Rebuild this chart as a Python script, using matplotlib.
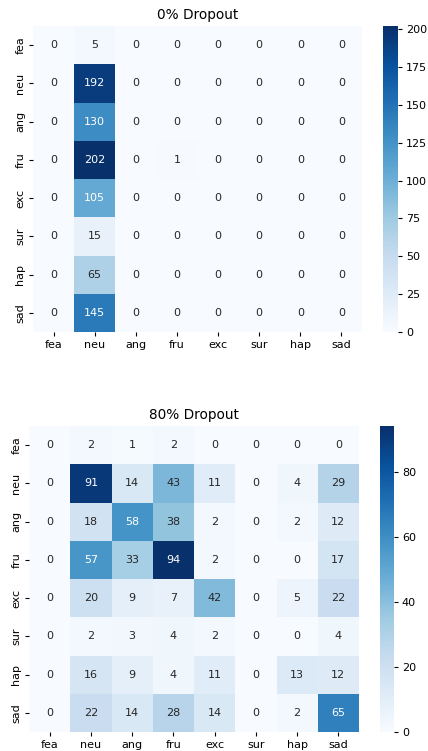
import matplotlib
matplotlib.use("Agg")
import matplotlib.pyplot as plt
import numpy as np
import seaborn as sns

labels = ["fea", "neu", "ang", "fru", "exc", "sur", "hap", "sad"]

cm_0 = np.array([
    [0, 5, 0, 0, 0, 0, 0, 0],
    [0, 192, 0, 0, 0, 0, 0, 0],
    [0, 130, 0, 0, 0, 0, 0, 0],
    [0, 202, 0, 1, 0, 0, 0, 0],
    [0, 105, 0, 0, 0, 0, 0, 0],
    [0, 15, 0, 0, 0, 0, 0, 0],
    [0, 65, 0, 0, 0, 0, 0, 0],
    [0, 145, 0, 0, 0, 0, 0, 0],
])

cm_80 = np.array([
    [0, 2, 1, 2, 0, 0, 0, 0],
    [0, 91, 14, 43, 11, 0, 4, 29],
    [0, 18, 58, 38, 2, 0, 2, 12],
    [0, 57, 33, 94, 2, 0, 0, 17],
    [0, 20, 9, 7, 42, 0, 5, 22],
    [0, 2, 3, 4, 2, 0, 0, 4],
    [0, 16, 9, 4, 11, 0, 13, 12],
    [0, 22, 14, 28, 14, 0, 2, 65],
])

W, H = 428, 751
fig = plt.figure(figsize=(W / 100, H / 100), dpi=100)

def box(x0, y0, x1, y1):
    return [x0 / W, 1 - y1 / H, (x1 - x0) / W, (y1 - y0) / H]

ax1 = fig.add_axes(box(33, 26, 362, 332))
cax1 = fig.add_axes(box(383, 26, 398, 332))
sns.heatmap(cm_0, annot=True, fmt="d", cmap="Blues", ax=ax1, cbar_ax=cax1,
            xticklabels=labels, yticklabels=labels, annot_kws={"size": 8})
ax1.set_title("0% Dropout", fontsize=9.8, pad=5)

ax2 = fig.add_axes(box(29, 426, 359, 732))
cax2 = fig.add_axes(box(380, 426, 394, 732))
sns.heatmap(cm_80, annot=True, fmt="d", cmap="Blues", ax=ax2, cbar_ax=cax2,
            xticklabels=labels, yticklabels=labels, annot_kws={"size": 8})
ax2.set_title("80% Dropout", fontsize=9.8, pad=5)

for ax in (ax1, ax2, cax1, cax2):
    ax.tick_params(labelsize=8, length=2.8, pad=2.8)

plt.savefig("out.png", dpi=100)
